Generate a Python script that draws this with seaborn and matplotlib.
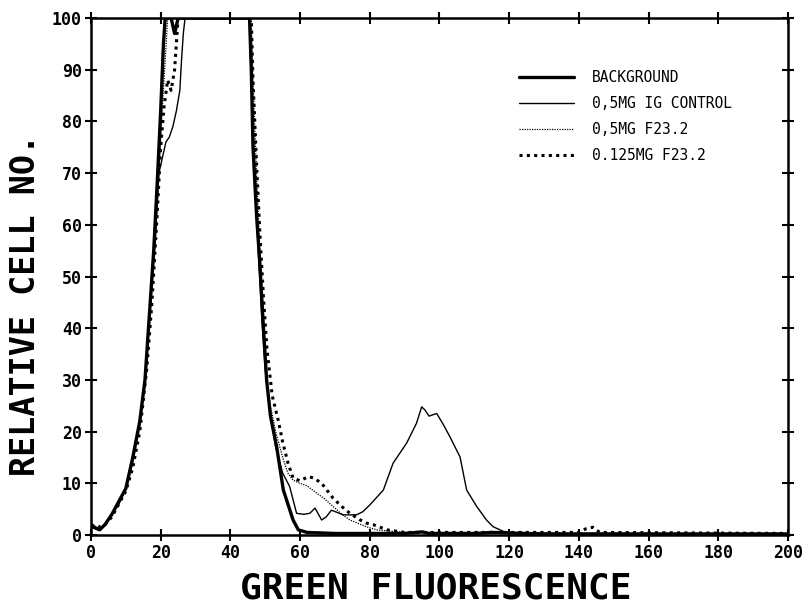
import pandas as pd
import matplotlib
matplotlib.use("Agg")
import matplotlib.pyplot as plt
import seaborn as sns

# green fluorescence histogram
bg_x = [0, 1, 2.5, 4, 6, 8, 10, 12, 14, 15.5, 17, 18, 19, 20, 20.8, 21.3, 23, 24, 25,
        45.5, 46, 46.5, 47.5, 48.5, 49.5, 50.4, 51.5, 53.3, 55.2, 58, 59.5, 62, 70,
        80, 90, 95, 97, 110, 115, 130, 200]
bg_y = [2, 1.5, 1, 2, 4, 6.5, 9, 15, 22, 30, 45, 55, 68, 82, 95, 100, 100, 97, 100,
        100, 90, 75, 62, 52, 40, 30, 23, 17, 8.7, 2.9, 1, 0.5, 0.3,
        0.3, 0.3, 0.6, 0.3, 0.3, 0.5, 0.2, 0.2]

ig_x = [0, 2, 4, 6, 8, 10, 12, 14, 15.5, 17, 18.5, 19.5, 21.5, 22.5, 23.5, 24.5, 25.5,
        26, 26.5, 27, 45.5, 46, 47, 48, 49, 50, 51.4, 53, 55, 57, 59, 61, 62.8, 64.3,
        66.2, 67.5, 69, 72.4, 76.2, 78, 80, 83.9, 86.7, 90.6, 93.4, 94.9, 95.8, 97,
        99.2, 101, 103, 105.9, 107.8, 110.7, 113.5, 115.4, 119, 125, 200]
ig_y = [1.5, 1, 2, 4, 6, 9, 15, 22, 30, 44, 58, 70, 76, 77, 79, 82, 86,
        92, 97, 100, 100, 88, 70, 55, 42, 32, 23.5, 17, 12, 9.4, 4.2, 4, 4.2, 5.2,
        2.9, 3.5, 4.8, 3.9, 3.9, 4.5, 5.8, 8.7, 13.9, 17.8, 21.6, 24.8, 24.2, 23,
        23.5, 21.5, 19, 15.1, 8.7, 5.5, 2.9, 1.6, 0.5, 0.2, 0.2]

f05_x = [0, 2, 4, 6, 8, 10, 12, 14, 15.5, 17, 18.5, 19.5, 20.5, 21.5, 22, 46, 46.5,
         47.5, 48.5, 50, 51.5, 53, 55, 56.5, 58, 60, 62, 64.8, 67, 69.5, 72, 74.3,
         79, 82, 90, 200]
f05_y = [1.5, 1, 2, 4, 6, 9, 14, 21, 29, 43, 57, 70, 83, 94, 100, 100, 88,
         70, 55, 33, 25, 20, 15, 12, 10.6, 10, 9.5, 8.1, 7, 5.5, 4, 2.9,
         1.6, 1, 0.5, 0.3]

f0125_x = [0, 2, 4, 6, 8, 10, 12, 14, 16, 17.5, 19, 20, 21, 22, 23, 24, 24.5, 25,
           46, 46.5, 47.5, 48.5, 49.5, 50.5, 52, 53.8, 55, 56.5, 58, 60, 62.4, 64,
           66.2, 69.5, 72, 74.3, 77, 79.1, 81, 85, 90, 140, 142, 144, 146, 200]
f0125_y = [2, 1.5, 2, 3.5, 6, 8.5, 13, 20, 32, 45, 62, 75, 83, 88, 86, 90, 95, 100,
           100, 88, 72, 58, 46, 36, 27, 22, 18, 14, 11, 10.5, 11.3, 11,
           10, 7.1, 5.5, 4.2, 3, 2.3, 2, 1, 0.5, 0.5, 1.2, 1.5, 0.5, 0.3]

labels = ["BACKGROUND", "0,5MG IG CONTROL", "0,5MG F23.2", "0.125MG F23.2"]

frames = []
for lab, xs, ys in zip(labels, [bg_x, ig_x, f05_x, f0125_x], [bg_y, ig_y, f05_y, f0125_y]):
    frames.append(pd.DataFrame({"fluor": xs, "cells": ys, "sample": lab}))
df = pd.concat(frames, ignore_index=True)

sns.set_theme(style="ticks")
plt.rcParams["font.family"] = ["DejaVu Sans Mono", "DejaVu Sans"]
plt.rcParams["text.color"] = "black"
plt.rcParams["axes.labelcolor"] = "black"
plt.rcParams["xtick.color"] = "black"
plt.rcParams["ytick.color"] = "black"

fig, ax = plt.subplots(figsize=(8.1, 6.09), dpi=100)
fig.subplots_adjust(left=0.1123, right=0.9728, top=0.9704, bottom=0.1215)

styles = {
    "BACKGROUND": dict(lw=2.4, ls="-"),
    "0,5MG IG CONTROL": dict(lw=1.0, ls="-"),
    "0,5MG F23.2": dict(lw=0.9, ls=(0, (1, 1))),
    "0.125MG F23.2": dict(lw=2.2, ls=(0, (1, 1.4))),
}
for lab in labels:
    sub = df[df["sample"] == lab]
    sns.lineplot(data=sub, x="fluor", y="cells", ax=ax, color="black",
                 label=lab, estimator=None, sort=False, **styles[lab])

ax.set_xlim(0, 200)
ax.set_ylim(0, 100)
ax.set_xticks(range(0, 201, 20))
ax.set_yticks(range(0, 101, 10))
ax.tick_params(direction="inout", length=9, width=1.5, top=True, right=True,
               labelsize=12, pad=2, colors="black")
for t in ax.get_xticklabels() + ax.get_yticklabels():
    t.set_fontweight("bold")
for s in ax.spines.values():
    s.set_linewidth(1.8)
    s.set_color("black")

ax.set_xlabel("GREEN FLUORESCENCE", fontsize=26, fontweight="bold")
ax.set_ylabel("RELATIVE CELL NO.", fontsize=24, fontweight="bold")
ax.xaxis.set_label_coords(0.494, -0.07)
ax.yaxis.set_label_coords(-0.07, 0.445)

leg = ax.legend(loc="upper left", bbox_to_anchor=(0.595, 0.925), frameon=False,
                handlelength=3.8, handletextpad=1.2, labelspacing=0.75,
                prop={"size": 10.5})

plt.savefig("out.png", dpi=100)
